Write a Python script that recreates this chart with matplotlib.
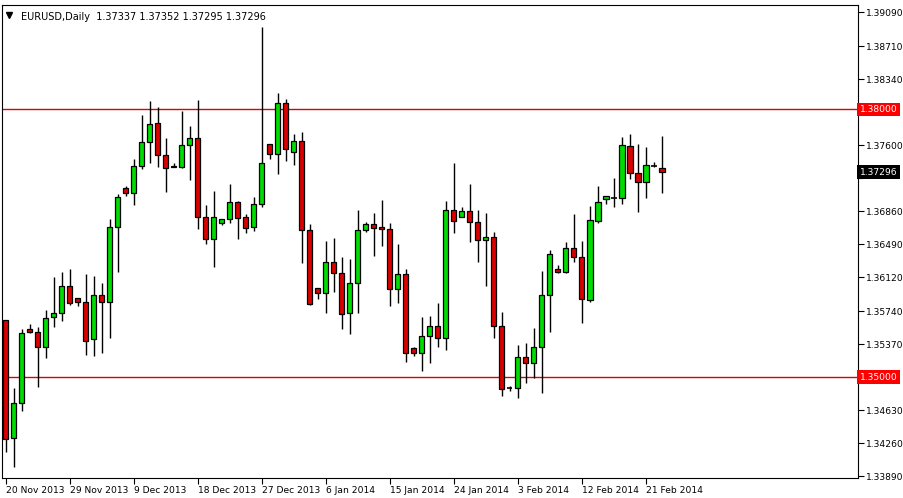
import numpy as np
import matplotlib.pyplot as plt
from matplotlib.patches import Rectangle

# EURUSD daily
OPEN = [1.3564, 1.3432, 1.3471, 1.3554, 1.3551, 1.3534, 1.3567, 1.3572, 1.3602, 1.3589,
        1.3584, 1.3543, 1.3592, 1.3584, 1.3668, 1.3712, 1.3706, 1.3737, 1.3763, 1.3785,
        1.3749, 1.3737, 1.3735, 1.3760, 1.3768, 1.3680, 1.3655, 1.3673, 1.3677, 1.3696,
        1.3679, 1.3668, 1.3694, 1.3761, 1.3750, 1.3807, 1.3752, 1.3765, 1.3665, 1.3600,
        1.3594, 1.3629, 1.3617, 1.3572, 1.3605, 1.3665, 1.3672, 1.3668, 1.3666, 1.3599,
        1.3616, 1.3533, 1.3527, 1.3546, 1.3557, 1.3544, 1.3687, 1.3679, 1.3686, 1.3674,
        1.3654, 1.3657, 1.3557, 1.3488, 1.3488, 1.3523, 1.3516, 1.3534, 1.3592, 1.3621,
        1.3618, 1.3645, 1.3635, 1.3586, 1.3675, 1.3700, 1.3701, 1.3701, 1.3759, 1.3729,
        1.3719, 1.3737, 1.3734]
HIGH = [1.3564, 1.3488, 1.3554, 1.3560, 1.3556, 1.3575, 1.3612, 1.3618, 1.3621, 1.3589,
        1.3616, 1.3613, 1.3605, 1.3677, 1.3705, 1.3714, 1.3745, 1.3794, 1.3809, 1.3803,
        1.3768, 1.3740, 1.3798, 1.3781, 1.3810, 1.3693, 1.3709, 1.3677, 1.3716, 1.3697,
        1.3683, 1.3702, 1.3892, 1.3761, 1.3818, 1.3812, 1.3772, 1.3775, 1.3672, 1.3600,
        1.3653, 1.3656, 1.3635, 1.3632, 1.3687, 1.3674, 1.3684, 1.3698, 1.3673, 1.3649,
        1.3621, 1.3534, 1.3567, 1.3569, 1.3583, 1.3697, 1.3740, 1.3691, 1.3716, 1.3687,
        1.3684, 1.3663, 1.3573, 1.3490, 1.3536, 1.3538, 1.3555, 1.3619, 1.3643, 1.3626,
        1.3651, 1.3683, 1.3653, 1.3692, 1.3714, 1.3703, 1.3723, 1.3769, 1.3772, 1.3761,
        1.3758, 1.3741, 1.3770]
LOW = [1.3416, 1.3399, 1.3462, 1.3549, 1.3489, 1.3521, 1.3556, 1.3563, 1.3581, 1.3580,
       1.3525, 1.3524, 1.3527, 1.3544, 1.3618, 1.3703, 1.3693, 1.3733, 1.3740, 1.3735,
       1.3707, 1.3736, 1.3734, 1.3721, 1.3666, 1.3649, 1.3623, 1.3670, 1.3673, 1.3655,
       1.3661, 1.3664, 1.3691, 1.3744, 1.3728, 1.3742, 1.3738, 1.3628, 1.3581, 1.3588,
       1.3572, 1.3595, 1.3554, 1.3548, 1.3572, 1.3663, 1.3636, 1.3647, 1.3580, 1.3583,
       1.3517, 1.3524, 1.3507, 1.3516, 1.3534, 1.3530, 1.3661, 1.3679, 1.3651, 1.3629,
       1.3602, 1.3544, 1.3479, 1.3484, 1.3477, 1.3493, 1.3499, 1.3482, 1.3551, 1.3617,
       1.3617, 1.3629, 1.3561, 1.3584, 1.3673, 1.3694, 1.3691, 1.3694, 1.3722, 1.3685,
       1.3701, 1.3735, 1.3706]
CLOSE = [1.3431, 1.3471, 1.3549, 1.3551, 1.3534, 1.3566, 1.3572, 1.3602, 1.3583, 1.3584,
         1.3541, 1.3592, 1.3584, 1.3668, 1.3702, 1.3706, 1.3737, 1.3763, 1.3784, 1.3749,
         1.3734, 1.3736, 1.3760, 1.3768, 1.3680, 1.3655, 1.3680, 1.3677, 1.3696, 1.3678,
         1.3667, 1.3694, 1.3740, 1.3750, 1.3807, 1.3756, 1.3765, 1.3665, 1.3582, 1.3594,
         1.3629, 1.3617, 1.3571, 1.3605, 1.3665, 1.3672, 1.3667, 1.3666, 1.3599, 1.3616,
         1.3527, 1.3527, 1.3546, 1.3557, 1.3544, 1.3687, 1.3675, 1.3686, 1.3674, 1.3654,
         1.3657, 1.3557, 1.3487, 1.3488, 1.3523, 1.3516, 1.3534, 1.3592, 1.3638, 1.3618,
         1.3645, 1.3635, 1.3588, 1.3676, 1.3696, 1.3703, 1.3701, 1.3760, 1.3729, 1.3719,
         1.3738, 1.3737, 1.37296]

DATE_LABELS = ['20 Nov 2013', '29 Nov 2013', '9 Dec 2013', '18 Dec 2013', '27 Dec 2013',
               '6 Jan 2014', '15 Jan 2014', '24 Jan 2014', '3 Feb 2014', '12 Feb 2014',
               '21 Feb 2014']
DATE_IDX = [0, 8, 16, 24, 32, 40, 48, 56, 64, 72, 80]
YTICKS = [1.39090, 1.38710, 1.38340, 1.37970, 1.37600, 1.37230, 1.36860, 1.36490,
          1.36120, 1.35740, 1.35370, 1.35000, 1.34630, 1.34260, 1.33890]
LEVELS = [1.38000, 1.35000]
LAST = 1.37296
TITLE = 'EURUSD,Daily  1.37337 1.37352 1.37295 1.37296'

UP, DOWN = '#00dd00', '#dd0000'

fig = plt.figure(figsize=(9.04, 4.98), dpi=100)
ax = fig.add_axes([2 / 904, 20 / 498, 856 / 904, 473 / 498])
ax.set_xlim(-0.46, 106.5)
ax.set_ylim(1.3387, 1.3917)

w = 0.65
for i, (o, h, l, c) in enumerate(zip(OPEN, HIGH, LOW, CLOSE)):
    ax.vlines(i, l, h, color='black', lw=1, zorder=2)
    lo, hi = min(o, c), max(o, c)
    if hi - lo < 0.00005:
        ax.hlines(o, i - w / 2, i + w / 2, color='black', lw=1.2, zorder=3)
    else:
        ax.add_patch(Rectangle((i - w / 2, lo), w, hi - lo, facecolor=UP if c > o else DOWN,
                               edgecolor='black', lw=0.9, zorder=3))

for lev in LEVELS:
    ax.axhline(lev, color='#dd0000', lw=1, zorder=1)

ax.yaxis.tick_right()
ax.set_yticks(YTICKS)
hidden = {1.37970, 1.37230, 1.35000}
ax.set_yticklabels(['' if t in hidden else f'{t:.5f}' for t in YTICKS])
ax.set_xticks(DATE_IDX)
ax.set_xticklabels(DATE_LABELS, ha='left')
ax.tick_params(axis='both', labelsize=6.6, length=4, width=0.8, direction='out', pad=1.5)
for s in ax.spines.values():
    s.set_linewidth(0.8)

tr = ax.get_yaxis_transform()
for lev in LEVELS:
    ax.text(1.002, lev, f'{lev:.5f}', transform=tr, va='center', ha='left', fontsize=6.6,
            color='white', bbox=dict(boxstyle='square,pad=0.25', fc='#ff0000', ec='none'),
            clip_on=False)
ax.text(1.002, LAST, f'{LAST:.5f}', transform=tr, va='center', ha='left', fontsize=6.6,
        color='white', bbox=dict(boxstyle='square,pad=0.25', fc='black', ec='none'),
        clip_on=False)

ax.text(0.022, 0.985, TITLE, transform=ax.transAxes, va='top', ha='left', fontsize=7)
ax.plot([0.0085], [0.979], marker='v', ms=4, color='black', transform=ax.transAxes)

fig.savefig('out.png', dpi=100)
